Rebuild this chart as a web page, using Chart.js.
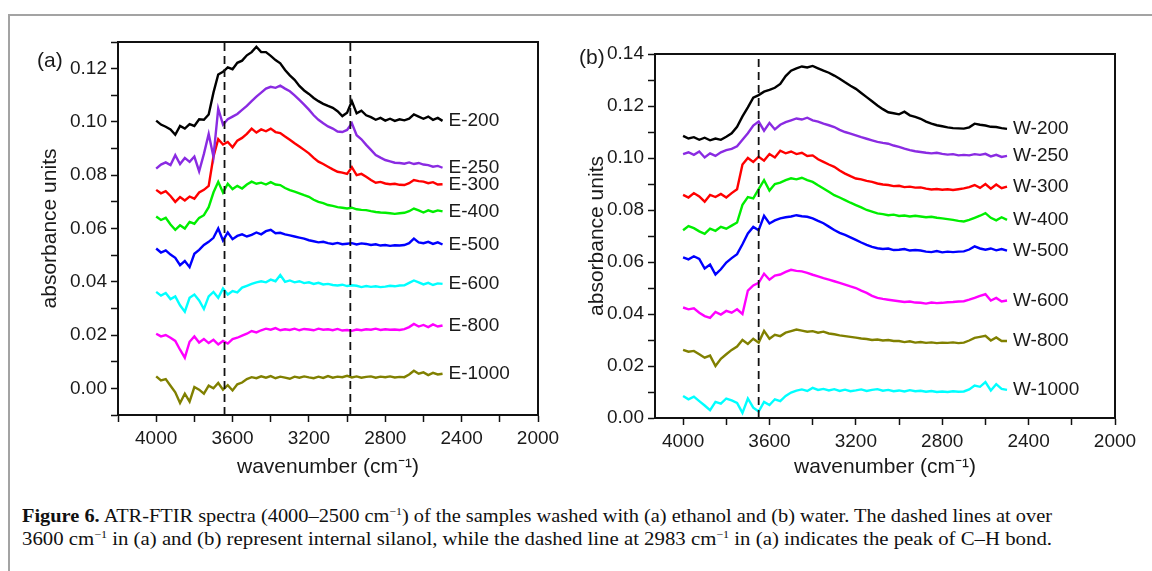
<!DOCTYPE html>
<html>
<head>
<meta charset="utf-8">
<script src="https://cdn.jsdelivr.net/npm/chart.js@4.4.0/dist/chart.umd.min.js"></script>
<style>
  html, body { margin: 0; padding: 0; background: #fff; width: 1152px; height: 571px; overflow: hidden; }
  #frame { position: absolute; left: 8px; top: 14px; width: 1150px; height: 570px; border-top: 2px solid #a3a3a3; border-left: 2px solid #a3a3a3; }
  canvas { position: absolute; top: 0; }
  .tag { position: absolute; font-family: 'Liberation Sans', Arial, sans-serif; font-size: 21px; color: #1a1a1a; line-height: 24px; }
  #caption { position: absolute; left: 22px; top: 504px; font-family: 'Liberation Serif', 'Times New Roman', serif; font-size: 19px; color: #111; }
  #caption div { white-space: nowrap; transform-origin: 0 0; line-height: 23px; width: max-content; }
  sup { font-size: 11px; vertical-align: 7px; line-height: 0; }
</style>
</head>
<body>
<div id="frame"></div>
<canvas id="chartA" width="570" height="490" style="left:0px"></canvas>
<canvas id="chartB" width="582" height="490" style="left:570px"></canvas>
<div class="tag" style="left:37px; top:48px">(a)</div>
<div class="tag" style="left:579px; top:45px">(b)</div>
<div id="caption">
  <div id="cap1"><b>Figure 6.</b> ATR-FTIR spectra (4000–2500 cm<sup>−1</sup>) of the samples washed with (a) ethanol and (b) water. The dashed lines at over</div>
  <div id="cap2">3600 cm<sup>−1</sup> in (a) and (b) represent internal silanol, while the dashed line at 2983 cm<sup>−1</sup> in (a) indicates the peak of C–H bond.</div>
</div>
<script>
// wavenumber grid (cm-1), same for every spectrum
const wavenumber = [4000,3975,3950,3925,3900,3875,3850,3825,3800,3775,3750,3725,3700,3675,3650,3625,3600,3575,3550,3525,
  3500,3475,3450,3425,3400,3375,3350,3325,3300,3275,3250,3225,3200,3175,3150,3125,3100,3075,3050,3025,
  3000,2975,2950,2925,2900,2875,2850,2825,2800,2775,2750,2725,2700,2675,2650,2625,2600,2575,2550,2525,2500];

// (a) washed with ethanol
const E200 = [0.1005,0.0990,0.0982,0.0972,0.0952,0.0985,0.0975,0.0992,0.0985,0.1010,
  0.1008,0.1028,0.1110,0.1178,0.1188,0.1205,0.1198,0.1222,0.1230,0.1250,
  0.1262,0.1282,0.1262,0.1262,0.1248,0.1232,0.1220,0.1195,0.1175,0.1158,
  0.1135,0.1118,0.1105,0.1090,0.1078,0.1068,0.1060,0.1053,0.1040,0.1022,
  0.1035,0.1078,0.1032,0.1042,0.1025,0.1018,0.1008,0.1015,0.1005,0.1012,
  0.1004,0.1010,0.1006,0.1012,0.1028,0.1020,0.1012,0.1020,0.1008,0.1015,
  0.1004];
const E250 = [0.0825,0.0840,0.0848,0.0838,0.0875,0.0842,0.0865,0.0850,0.0870,0.0815,
  0.0880,0.0955,0.0870,0.1050,0.0990,0.1010,0.1020,0.1030,0.1045,0.1060,
  0.1078,0.1095,0.1110,0.1125,0.1132,0.1128,0.1136,0.1125,0.1115,0.1100,
  0.1083,0.1065,0.1046,0.1025,0.1008,0.0995,0.0983,0.0975,0.0964,0.0962,
  0.0970,0.0995,0.0950,0.0935,0.0914,0.0895,0.0876,0.0866,0.0857,0.0852,
  0.0847,0.0846,0.0843,0.0848,0.0842,0.0846,0.0840,0.0838,0.0832,0.0835,
  0.0828];
const E300 = [0.0745,0.0732,0.0740,0.0722,0.0700,0.0718,0.0705,0.0720,0.0712,0.0735,
  0.0745,0.0760,0.0870,0.0935,0.0915,0.0925,0.0905,0.0930,0.0940,0.0955,
  0.0975,0.0960,0.0972,0.0965,0.0975,0.0962,0.0958,0.0945,0.0933,0.0920,
  0.0908,0.0895,0.0882,0.0865,0.0851,0.0842,0.0832,0.0822,0.0813,0.0810,
  0.0805,0.0830,0.0800,0.0805,0.0794,0.0782,0.0772,0.0775,0.0769,0.0766,
  0.0768,0.0764,0.0763,0.0770,0.0782,0.0778,0.0776,0.0770,0.0774,0.0765,
  0.0766];
const E400 = [0.0645,0.0632,0.0640,0.0615,0.0595,0.0612,0.0600,0.0625,0.0618,0.0640,
  0.0650,0.0680,0.0735,0.0775,0.0735,0.0768,0.0748,0.0760,0.0750,0.0765,
  0.0776,0.0768,0.0772,0.0765,0.0774,0.0765,0.0763,0.0752,0.0744,0.0738,
  0.0732,0.0725,0.0719,0.0708,0.0700,0.0695,0.0688,0.0685,0.0680,0.0678,
  0.0675,0.0678,0.0672,0.0670,0.0669,0.0665,0.0662,0.0660,0.0659,0.0657,
  0.0655,0.0657,0.0659,0.0665,0.0675,0.0668,0.0660,0.0668,0.0662,0.0668,
  0.0664];
const E500 = [0.0525,0.0510,0.0518,0.0502,0.0490,0.0462,0.0478,0.0455,0.0505,0.0520,
  0.0538,0.0550,0.0565,0.0600,0.0555,0.0585,0.0560,0.0572,0.0578,0.0570,
  0.0576,0.0585,0.0578,0.0590,0.0595,0.0582,0.0584,0.0578,0.0574,0.0570,
  0.0566,0.0562,0.0556,0.0552,0.0548,0.0550,0.0545,0.0542,0.0546,0.0541,
  0.0543,0.0545,0.0540,0.0544,0.0542,0.0538,0.0541,0.0536,0.0538,0.0535,
  0.0537,0.0536,0.0538,0.0545,0.0562,0.0548,0.0545,0.0550,0.0542,0.0548,
  0.0540];
const E600 = [0.0362,0.0348,0.0358,0.0335,0.0345,0.0312,0.0288,0.0340,0.0352,0.0330,
  0.0298,0.0345,0.0362,0.0340,0.0375,0.0352,0.0365,0.0360,0.0378,0.0385,
  0.0392,0.0398,0.0402,0.0398,0.0408,0.0402,0.0425,0.0400,0.0405,0.0398,
  0.0402,0.0395,0.0398,0.0392,0.0396,0.0390,0.0392,0.0388,0.0386,0.0389,
  0.0384,0.0387,0.0385,0.0380,0.0384,0.0381,0.0383,0.0380,0.0382,0.0385,
  0.0383,0.0386,0.0387,0.0396,0.0405,0.0398,0.0390,0.0396,0.0388,0.0394,
  0.0392];
const E800 = [0.0205,0.0195,0.0200,0.0190,0.0178,0.0145,0.0115,0.0175,0.0195,0.0172,
  0.0185,0.0170,0.0182,0.0165,0.0178,0.0168,0.0185,0.0190,0.0198,0.0205,
  0.0215,0.0210,0.0218,0.0224,0.0220,0.0226,0.0218,0.0222,0.0219,0.0224,
  0.0218,0.0223,0.0221,0.0218,0.0224,0.0220,0.0222,0.0218,0.0223,0.0217,
  0.0219,0.0216,0.0221,0.0218,0.0222,0.0220,0.0224,0.0219,0.0222,0.0220,
  0.0221,0.0219,0.0222,0.0230,0.0242,0.0232,0.0238,0.0230,0.0240,0.0232,
  0.0236];
const E1000 = [0.0045,0.0030,0.0035,0.0010,-0.0015,-0.0055,-0.0020,-0.0050,0.0005,-0.0005,
  -0.0020,0.0010,0.0000,0.0020,-0.0005,0.0012,-0.0008,0.0015,0.0022,0.0035,
  0.0042,0.0038,0.0045,0.0040,0.0046,0.0038,0.0044,0.0040,0.0036,0.0044,
  0.0040,0.0045,0.0041,0.0038,0.0044,0.0039,0.0046,0.0040,0.0044,0.0042,
  0.0047,0.0041,0.0045,0.0040,0.0043,0.0045,0.0040,0.0044,0.0042,0.0045,
  0.0041,0.0043,0.0042,0.0052,0.0066,0.0055,0.0060,0.0050,0.0058,0.0052,
  0.0055];

// (b) washed with water
const W200 = [0.1085,0.1075,0.1080,0.1070,0.1078,0.1068,0.1075,0.1070,0.1082,0.1095,
  0.1120,0.1160,0.1195,0.1232,0.1242,0.1255,0.1262,0.1270,0.1285,0.1315,
  0.1336,0.1345,0.1352,0.1348,0.1354,0.1345,0.1336,0.1328,0.1317,0.1305,
  0.1291,0.1278,0.1266,0.1250,0.1234,0.1218,0.1202,0.1188,0.1176,0.1172,
  0.1168,0.1178,0.1164,0.1158,0.1151,0.1140,0.1132,0.1126,0.1122,0.1118,
  0.1115,0.1114,0.1113,0.1118,0.1132,0.1128,0.1125,0.1120,0.1119,0.1115,
  0.1112];
const W250 = [0.1015,0.1022,0.1012,0.1025,0.1002,0.1018,0.1008,0.1022,0.1030,0.1035,
  0.1045,0.1070,0.1095,0.1125,0.1140,0.1105,0.1135,0.1110,0.1128,0.1138,
  0.1145,0.1152,0.1148,0.1155,0.1145,0.1140,0.1132,0.1126,0.1119,0.1108,
  0.1100,0.1094,0.1087,0.1080,0.1074,0.1068,0.1062,0.1058,0.1055,0.1048,
  0.1043,0.1036,0.1030,0.1026,0.1023,0.1020,0.1018,0.1020,0.1016,0.1013,
  0.1015,0.1010,0.1012,0.1010,0.1015,0.1012,0.1016,0.1006,0.1012,0.1004,
  0.1008];
const W300 = [0.0858,0.0848,0.0865,0.0852,0.0832,0.0858,0.0850,0.0862,0.0848,0.0865,
  0.0880,0.0975,0.1000,0.0985,0.1005,0.0990,0.1015,0.1002,0.1028,0.1018,
  0.1025,0.1015,0.1020,0.1008,0.1010,0.0995,0.0985,0.0975,0.0966,0.0952,
  0.0940,0.0930,0.0921,0.0918,0.0912,0.0908,0.0902,0.0898,0.0896,0.0892,
  0.0893,0.0888,0.0890,0.0886,0.0887,0.0882,0.0879,0.0881,0.0878,0.0880,
  0.0877,0.0880,0.0883,0.0888,0.0896,0.0885,0.0900,0.0882,0.0898,0.0884,
  0.0890];
const W400 = [0.0722,0.0738,0.0730,0.0718,0.0708,0.0728,0.0720,0.0735,0.0728,0.0740,
  0.0752,0.0820,0.0850,0.0845,0.0880,0.0915,0.0875,0.0900,0.0905,0.0915,
  0.0922,0.0918,0.0924,0.0915,0.0908,0.0895,0.0883,0.0870,0.0857,0.0848,
  0.0838,0.0828,0.0819,0.0810,0.0800,0.0794,0.0787,0.0784,0.0780,0.0782,
  0.0777,0.0779,0.0775,0.0778,0.0775,0.0772,0.0774,0.0770,0.0768,0.0765,
  0.0762,0.0758,0.0756,0.0762,0.0770,0.0778,0.0788,0.0770,0.0760,0.0772,
  0.0762];
const W500 = [0.0618,0.0610,0.0622,0.0612,0.0575,0.0590,0.0552,0.0572,0.0598,0.0615,
  0.0630,0.0668,0.0710,0.0735,0.0722,0.0778,0.0748,0.0760,0.0768,0.0772,
  0.0775,0.0780,0.0776,0.0774,0.0768,0.0758,0.0749,0.0736,0.0723,0.0712,
  0.0704,0.0695,0.0685,0.0675,0.0666,0.0658,0.0653,0.0650,0.0652,0.0646,
  0.0647,0.0650,0.0644,0.0646,0.0644,0.0640,0.0638,0.0642,0.0637,0.0640,
  0.0638,0.0640,0.0641,0.0648,0.0660,0.0652,0.0647,0.0652,0.0645,0.0650,
  0.0644];
const W600 = [0.0425,0.0418,0.0422,0.0405,0.0392,0.0385,0.0408,0.0398,0.0412,0.0405,
  0.0418,0.0400,0.0490,0.0510,0.0520,0.0555,0.0532,0.0548,0.0552,0.0562,
  0.0570,0.0566,0.0564,0.0558,0.0551,0.0545,0.0538,0.0532,0.0526,0.0520,
  0.0513,0.0506,0.0500,0.0490,0.0481,0.0470,0.0462,0.0458,0.0455,0.0452,
  0.0449,0.0446,0.0448,0.0444,0.0443,0.0440,0.0444,0.0442,0.0443,0.0445,
  0.0446,0.0448,0.0449,0.0455,0.0462,0.0470,0.0476,0.0452,0.0462,0.0448,
  0.0452];
const W800 = [0.0262,0.0255,0.0258,0.0245,0.0232,0.0240,0.0200,0.0228,0.0245,0.0262,
  0.0275,0.0300,0.0285,0.0305,0.0290,0.0335,0.0305,0.0320,0.0315,0.0328,
  0.0334,0.0340,0.0336,0.0332,0.0334,0.0328,0.0332,0.0325,0.0322,0.0318,
  0.0315,0.0312,0.0309,0.0306,0.0304,0.0300,0.0302,0.0298,0.0300,0.0296,
  0.0296,0.0292,0.0295,0.0290,0.0292,0.0289,0.0291,0.0288,0.0290,0.0289,
  0.0291,0.0288,0.0290,0.0298,0.0308,0.0312,0.0316,0.0298,0.0310,0.0296,
  0.0296];
const W1000 = [0.0085,0.0072,0.0082,0.0065,0.0048,0.0030,0.0062,0.0055,0.0075,0.0068,
  0.0058,0.0020,0.0075,0.0040,0.0025,0.0062,0.0050,0.0072,0.0065,0.0085,
  0.0098,0.0105,0.0110,0.0104,0.0116,0.0108,0.0112,0.0106,0.0111,0.0104,
  0.0109,0.0103,0.0106,0.0110,0.0104,0.0108,0.0111,0.0105,0.0108,0.0103,
  0.0106,0.0102,0.0107,0.0103,0.0105,0.0101,0.0104,0.0100,0.0102,0.0100,
  0.0103,0.0101,0.0102,0.0110,0.0125,0.0120,0.0138,0.0106,0.0130,0.0112,
  0.0108];

const namesA = ['E-200', 'E-250', 'E-300', 'E-400', 'E-500', 'E-600', 'E-800', 'E-1000'];
const namesB = ['W-200', 'W-250', 'W-300', 'W-400', 'W-500', 'W-600', 'W-800', 'W-1000'];
const seriesA = [E200, E250, E300, E400, E500, E600, E800, E1000];
const seriesB = [W200, W250, W300, W400, W500, W600, W800, W1000];
const colorsA = ['#000000', '#8a2be2', '#ff0000', '#00ee00', '#0000ff', '#00ffff', '#ff00ff', '#808000'];
const colorsB = ['#000000', '#8a2be2', '#ff0000', '#00ee00', '#0000ff', '#ff00ff', '#808000', '#00ffff'];

// dashed markers: internal silanol (both) and C-H peak (a)
const dashA = [3642, 2983];
const dashB = [3650];

// axis ranges
const xRangeA = [2000, 4200];
const yRangeA = [-0.01, 0.13];
const xRangeB = [2000, 4130];
const yRangeB = [0, 0.14];

const SANS = "'Liberation Sans', Arial, sans-serif";
const INK = '#1a1a1a';

// frame round the plot area
const boxPlugin = {
  id: 'box',
  afterDraw(chart) {
    const a = chart.chartArea;
    const ctx = chart.ctx;
    ctx.save();
    ctx.strokeStyle = '#111';
    ctx.lineWidth = 2;
    ctx.strokeRect(a.left, a.top, a.right - a.left, a.bottom - a.top);
    ctx.restore();
  }
};

// sample name at the end of each spectrum
const endLabels = {
  id: 'endLabels',
  afterDatasetsDraw(chart) {
    const ctx = chart.ctx;
    ctx.save();
    ctx.font = '19px ' + SANS;
    ctx.fillStyle = INK;
    ctx.textBaseline = 'middle';
    chart.data.datasets.forEach((ds, i) => {
      if (!ds.endLabel) return;
      const pts = chart.getDatasetMeta(i).data;
      const last = pts[pts.length - 1];
      ctx.fillText(ds.endLabel, last.x + 6, last.y);
    });
    ctx.restore();
  }
};

function makeChart(id, series, names, colors, dashes, xr, yr, geo) {
  const datasets = dashes.map(w => ({
    data: [{ x: w, y: yr[0] }, { x: w, y: yr[1] }],
    borderColor: '#111',
    borderWidth: 1.8,
    borderDash: [8, 5],
    pointRadius: 0,
    order: 0
  }));
  series.forEach((vals, k) => {
    datasets.push({
      data: wavenumber.map((w, i) => ({ x: w, y: vals[i] })),
      borderColor: colors[k],
      borderWidth: 2.4,
      pointRadius: 0,
      tension: 0,
      order: 1,
      endLabel: names[k]
    });
  });

  return new Chart(document.getElementById(id), {
    type: 'line',
    data: { datasets },
    options: {
      responsive: false,
      animation: false,
      events: [],
      layout: { padding: geo.pad },
      plugins: { legend: { display: false }, tooltip: { enabled: false } },
      scales: {
        x: {
          type: 'linear',
          reverse: true,
          min: xr[0],
          max: xr[1],
          afterFit: s => { s.height = geo.xh; },
          grid: { drawOnChartArea: false, tickLength: 7, tickColor: '#111', tickWidth: 1.5 },
          border: { display: true, color: '#111', width: 2 },
          ticks: {
            stepSize: 200,
            includeBounds: false,
            autoSkip: false,
            maxRotation: 0,
            padding: 5,
            color: INK,
            font: { family: SANS, size: 19 },
            callback: v => (v % 400 === 0 ? String(v) : '')
          },
          title: {
            display: true,
            text: 'wavenumber (cm⁻¹)',
            color: INK,
            font: { family: SANS, size: 21 },
            padding: { top: 0, bottom: geo.xtPad }
          }
        },
        y: {
          type: 'linear',
          min: yr[0],
          max: yr[1],
          afterFit: s => { s.width = geo.yw; },
          grid: { drawOnChartArea: false, tickLength: 7, tickColor: '#111', tickWidth: 1.5 },
          border: { display: true, color: '#111', width: 2 },
          ticks: {
            stepSize: 0.01,
            includeBounds: false,
            autoSkip: false,
            padding: 4,
            color: INK,
            font: { family: SANS, size: 19 },
            callback: v => {
              const k = Math.round(v * 100);
              return k % 2 === 0 ? (k / 100).toFixed(2) : '';
            }
          },
          title: {
            display: true,
            text: 'absorbance units',
            color: INK,
            font: { family: SANS, size: 21 },
            padding: { top: geo.ytPad, bottom: 0 }
          }
        }
      }
    },
    plugins: [boxPlugin, endLabels]
  });
}

makeChart('chartA', seriesA, namesA, colorsA, dashA, xRangeA, yRangeA,
  { pad: { top: 42, right: 32, left: 0, bottom: 0 }, yw: 118, xh: 75, ytPad: 38, xtPad: 10 });
makeChart('chartB', seriesB, namesB, colorsB, dashB, xRangeB, yRangeB,
  { pad: { top: 54, right: 37, left: 0, bottom: 0 }, yw: 85, xh: 72, ytPad: 15, xtPad: 10 });

// squeeze caption lines to the condensed width of the original
[['cap1', 1030], ['cap2', 1030]].forEach(([id, w]) => {
  const el = document.getElementById(id);
  const natural = el.getBoundingClientRect().width;
  el.style.transform = 'scaleX(' + (w / natural) + ')';
});
</script>
</body>
</html>
